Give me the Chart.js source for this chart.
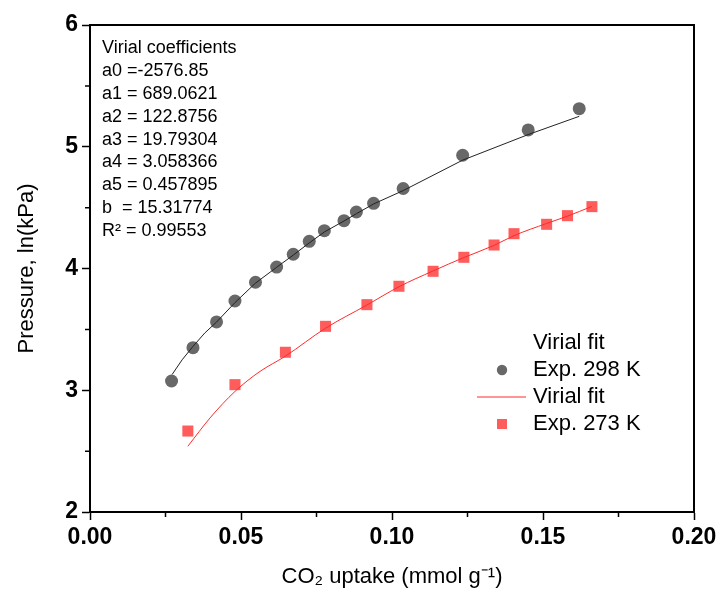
<!DOCTYPE html>
<html>
<head>
<meta charset="utf-8">
<script src="https://cdn.jsdelivr.net/npm/chart.js@4.4.1/dist/chart.umd.min.js"></script>
<style>
  html, body { margin: 0; padding: 0; background: #fff; }
  #wrap { width: 722px; height: 591px; }
</style>
</head>
<body>
<div id="wrap"><canvas id="grafica"></canvas></div>
<script>
// experimental points, 298 K
const x298 = [0.0270, 0.0341, 0.0419, 0.0480, 0.0548, 0.0618, 0.0673, 0.0726, 0.0776, 0.0841, 0.0882, 0.0939, 0.1037, 0.1234, 0.1451, 0.1620];
const y298 = [3.076, 3.350, 3.561, 3.733, 3.887, 4.012, 4.117, 4.223, 4.311, 4.393, 4.464, 4.535, 4.657, 4.930, 5.138, 5.313];
// virial fit, 298 K
const fitX298 = [0.0272, 0.0305, 0.0341, 0.0380, 0.0419, 0.0480, 0.0548, 0.0618, 0.0673, 0.0726, 0.0776, 0.0841, 0.0882, 0.0939, 0.1037, 0.1234, 0.1451, 0.1620];
const fitY298 = [3.13, 3.25, 3.36, 3.47, 3.56, 3.72, 3.88, 4.01, 4.11, 4.21, 4.30, 4.39, 4.45, 4.53, 4.64, 4.89, 5.10, 5.25];

// experimental points, 273 K
const x273 = [0.0324, 0.0480, 0.0647, 0.0780, 0.0917, 0.1023, 0.1136, 0.1238, 0.1338, 0.1404, 0.1512, 0.1581, 0.1662];
const y273 = [2.665, 3.046, 3.312, 3.525, 3.703, 3.854, 3.977, 4.092, 4.193, 4.286, 4.363, 4.434, 4.508];
// virial fit, 273 K
const fitX273 = [0.0324, 0.0400, 0.0480, 0.0560, 0.0647, 0.0780, 0.0917, 0.1023, 0.1136, 0.1238, 0.1338, 0.1404, 0.1512, 0.1581, 0.1662];
const fitY273 = [2.54, 2.78, 2.99, 3.15, 3.28, 3.51, 3.70, 3.85, 3.98, 4.09, 4.19, 4.27, 4.37, 4.43, 4.51];

const etiquetas = ['Virial fit', 'Exp. 298 K', 'Virial fit', 'Exp. 273 K'];
const coeficientes = [
  'Virial coefficients',
  'a0 =-2576.85',
  'a1 = 689.0621',
  'a2 = 122.8756',
  'a3 = 19.79304',
  'a4 = 3.058366',
  'a5 = 0.457895',
  'b  = 15.31774',
  'R\u00B2 = 0.99553'
];

const xTicks = [0, 0.05, 0.10, 0.15, 0.20];
const yTicks = [2, 3, 4, 5, 6];

const fuente = '"Liberation Sans", Arial, sans-serif';

function puntos(xs, ys) {
  return xs.map((x, i) => ({ x: x, y: ys[i] }));
}

// marco, ticks menores, texto de coeficientes y leyenda
const extras = {
  id: 'extras',
  afterDraw(chart) {
    const ctx = chart.ctx;
    const a = chart.chartArea;
    const sx = chart.scales.x;
    const sy = chart.scales.y;

    ctx.save();
    ctx.strokeStyle = '#000';
    ctx.lineWidth = 2;
    ctx.beginPath();
    ctx.moveTo(a.left, a.top);
    ctx.lineTo(a.right, a.top);
    ctx.lineTo(a.right, a.bottom);
    ctx.stroke();

    // minor ticks
    ctx.lineWidth = 1.5;
    ctx.beginPath();
    for (let i = 0; i < xTicks.length - 1; i++) {
      const px = sx.getPixelForValue((xTicks[i] + xTicks[i + 1]) / 2);
      ctx.moveTo(px, a.bottom);
      ctx.lineTo(px, a.bottom + 5);
    }
    for (let i = 0; i < yTicks.length - 1; i++) {
      const py = sy.getPixelForValue((yTicks[i] + yTicks[i + 1]) / 2);
      ctx.moveTo(a.left, py);
      ctx.lineTo(a.left - 5, py);
    }
    ctx.stroke();

    // coefficients text
    ctx.fillStyle = '#000';
    ctx.font = '18px ' + fuente;
    ctx.textBaseline = 'middle';
    ctx.textAlign = 'left';
    coeficientes.forEach((t, i) => {
      ctx.fillText(t, a.left + 12, a.top + 23 + i * 22.9);
    });

    // legend
    const ds = chart.data.datasets;
    ctx.font = '22px ' + fuente;
    const lx = a.left + 412;
    const ly = a.top + 318;
    etiquetas.forEach((t, i) => {
      const y = ly + i * 27;
      const d = ds[i];
      if (i === 1) {
        ctx.fillStyle = d.backgroundColor;
        ctx.beginPath();
        ctx.arc(lx, y, 5.2, 0, Math.PI * 2);
        ctx.fill();
      } else if (i === 2) {
        ctx.strokeStyle = d.borderColor;
        ctx.lineWidth = 1;
        ctx.beginPath();
        ctx.moveTo(lx - 25, y);
        ctx.lineTo(lx + 24, y);
        ctx.stroke();
      } else if (i === 3) {
        ctx.fillStyle = d.backgroundColor;
        ctx.fillRect(lx - 5, y - 5, 10, 10);
      }
      ctx.fillStyle = '#000';
      ctx.fillText(t, lx + 31, y);
    });
    ctx.restore();
  }
};

new Chart(document.getElementById('grafica'), {
  type: 'scatter',
  data: {
    datasets: [
      {
        label: etiquetas[0],
        data: puntos(fitX298, fitY298),
        showLine: true,
        borderColor: '#222',
        borderWidth: 1,
        pointRadius: 0,
        order: 2
      },
      {
        label: etiquetas[1],
        data: puntos(x298, y298),
        backgroundColor: '#686868',
        borderWidth: 0,
        pointRadius: 6.5,
        order: 3
      },
      {
        label: etiquetas[2],
        data: puntos(fitX273, fitY273),
        showLine: true,
        cubicInterpolationMode: 'monotone',
        borderColor: '#ff2a2a',
        borderWidth: 1,
        pointRadius: 0,
        order: 0
      },
      {
        label: etiquetas[3],
        data: puntos(x273, y273),
        backgroundColor: '#ff5c5c',
        borderWidth: 0,
        pointStyle: 'rect',
        pointRadius: 7.8,
        order: 1
      }
    ]
  },
  options: {
    responsive: true,
    maintainAspectRatio: false,
    animation: false,
    layout: { padding: { left: 0, top: 25, right: 28, bottom: 0 } },
    plugins: {
      legend: { display: false },
      tooltip: { enabled: false }
    },
    scales: {
      x: {
        type: 'linear',
        min: 0,
        max: 0.2,
        afterBuildTicks: s => { s.ticks = xTicks.map(v => ({ value: v })); },
        afterFit: s => { s.height = 79; },
        border: { color: '#000', width: 2 },
        grid: { drawOnChartArea: false, color: '#000', tickLength: 8, tickWidth: 1.5 },
        ticks: {
          color: '#000',
          padding: 4,
          font: { family: fuente, size: 23, weight: 'bold' },
          callback: v => v.toFixed(2)
        },
        title: {
          display: true,
          text: 'CO\u2082 uptake (mmol g\u207B\u00B9)',
          color: '#000',
          font: { family: fuente, size: 22 },
          padding: { top: 0, bottom: 1 }
        }
      },
      y: {
        type: 'linear',
        min: 2,
        max: 6,
        afterBuildTicks: s => { s.ticks = yTicks.map(v => ({ value: v })); },
        afterFit: s => { s.width = 90; },
        border: { color: '#000', width: 2 },
        grid: { drawOnChartArea: false, color: '#000', tickLength: 8, tickWidth: 1.5 },
        ticks: {
          color: '#000',
          padding: 4,
          font: { family: fuente, size: 23, weight: 'bold' },
          callback: v => String(v)
        },
        title: {
          display: true,
          text: 'Pressure, ln(kPa)',
          color: '#000',
          font: { family: fuente, size: 22 },
          padding: { top: 14, bottom: 0 }
        }
      }
    }
  },
  plugins: [extras]
});
</script>
</body>
</html>
